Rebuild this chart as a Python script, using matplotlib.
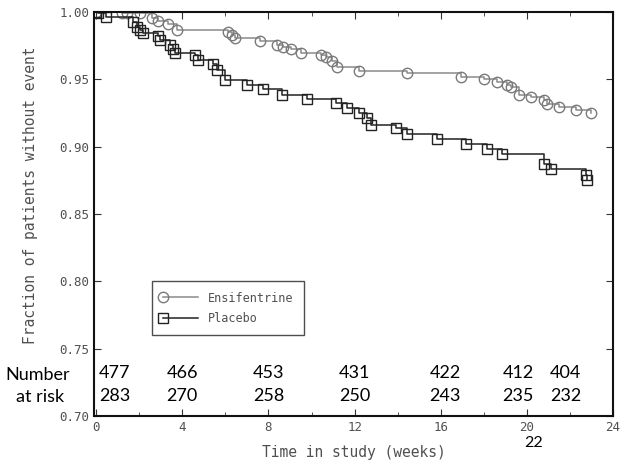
import matplotlib
matplotlib.use("Agg")
import matplotlib.pyplot as plt
from matplotlib.ticker import MultipleLocator
from matplotlib.legend_handler import HandlerLine2D

# ---- data ----
ens_t = [0.0, 1.2, 1.44, 2.04, 2.59, 2.87, 3.33, 3.75, 6.11, 6.30, 6.44, 7.59, 8.38, 8.66,
         9.07, 9.49, 10.46, 10.69, 10.97, 11.2, 12.2, 14.44, 16.94, 18.0, 18.6, 19.07,
         19.26, 19.63, 20.19, 20.79, 20.93, 21.48, 22.3, 23.0]
ens_s = [1.0, 0.9995, 0.999, 0.999, 0.9955, 0.993, 0.991, 0.987, 0.985, 0.983, 0.981, 0.9785,
         0.9755, 0.974, 0.9725, 0.9696, 0.968, 0.9666, 0.9636, 0.959, 0.956, 0.955, 0.952,
         0.950, 0.948, 0.946, 0.944, 0.938, 0.937, 0.935, 0.932, 0.9295, 0.927, 0.925]

pla_t = [0.0, 0.1, 0.45, 1.71, 1.9, 2.04, 2.18, 2.87, 2.96, 3.43, 3.56, 3.66, 4.58, 4.72,
         5.42, 5.6, 5.97, 6.99, 7.73, 8.61, 9.81, 11.16, 11.67, 12.2, 12.6, 12.78, 13.94,
         14.44, 15.83, 17.18, 18.15, 18.84, 20.79, 21.11, 22.73, 22.78]
pla_s = [1.0, 0.999, 0.996, 0.9926, 0.989, 0.9866, 0.9844, 0.982, 0.979, 0.9755, 0.9725,
         0.9696, 0.968, 0.9644, 0.9614, 0.957, 0.9495, 0.946, 0.943, 0.938, 0.9355, 0.9325,
         0.929, 0.925, 0.921, 0.916, 0.914, 0.9095, 0.906, 0.902, 0.898, 0.8946, 0.887,
         0.8835, 0.879, 0.8753]

risk_t = [0.85, 4.0, 8.0, 12.0, 16.2, 19.6, 21.8]
risk_ens = [477, 466, 453, 431, 422, 412, 404]
risk_pla = [283, 270, 258, 250, 243, 235, 232]

xticks = [0, 4, 8, 12, 16, 20, 24]
yticks = [0.70, 0.75, 0.80, 0.85, 0.90, 0.95, 1.00]

W, H = 620, 469
fig = plt.figure(figsize=(W / 100, H / 100), dpi=100)
ax = fig.add_axes([94 / W, 1 - 416 / H, (613 - 94) / W, (416 - 12) / H])

gray = "#505050"
mono = "DejaVu Sans Mono"
ax.plot(ens_t, ens_s, drawstyle="steps-post", color="#8a8a8a", lw=1.1,
        marker="o", markersize=7.5, markerfacecolor="none", markeredgecolor="#7a7a7a",
        markeredgewidth=1.0, label="Ensifentrine")
ax.plot(pla_t, pla_s, drawstyle="steps-post", color="#222222", lw=1.1,
        marker="s", markersize=6.5, markerfacecolor="none", markeredgecolor="#222222",
        markeredgewidth=1.0, label="Placebo")

ax.set_xlim(-0.1, 24)
ax.set_ylim(0.70, 1.00)
ax.set_xticks(xticks)
ax.set_yticks(yticks)
ax.set_yticklabels([f"{v:.2f}" for v in yticks])
ax.xaxis.set_minor_locator(MultipleLocator(2))
ax.tick_params(which="both", direction="in", top=True, right=True, colors="#333333",
               labelcolor=gray, labelsize=9)
ax.tick_params(which="major", length=5)
ax.tick_params(which="minor", length=3)
for lab in ax.get_xticklabels() + ax.get_yticklabels():
    lab.set_family(mono)
for sp in ax.spines.values():
    sp.set_linewidth(1.5)
    sp.set_color("#111111")

ax.set_xlabel("Time in study (weeks)", fontsize=10.5, color=gray, labelpad=8, family=mono)
ax.set_ylabel("Fraction of patients without event", fontsize=10.5, color=gray, family=mono)
ax.yaxis.set_label_coords((38 - 94) / 519, 1 - (195 - 12) / 404)


def _upd(h, o):
    h.update_from(o)
    h.set_markevery([0])


leg = ax.legend(loc="upper left",
                bbox_to_anchor=((152 - 94) / 519, 1 - (281 - 12) / 404),
                borderaxespad=0, frameon=True, fancybox=False,
                prop={"family": mono, "size": 8.5}, handlelength=3.0,
                borderpad=0.9, labelspacing=0.6, labelcolor=gray, edgecolor="#222222",
                handler_map={plt.Line2D: HandlerLine2D(update_func=_upd)})
leg.get_frame().set_linewidth(1.0)

rf = "Lato"
for t, a, b in zip(risk_t, risk_ens, risk_pla):
    ax.text(t, 0.7317, str(a), fontsize=13, family=rf, ha="center", va="center", color="black")
    ax.text(t, 0.7152, str(b), fontsize=13, family=rf, ha="center", va="center", color="black")
fig.text(38 / W, 1 - 375 / H, "Number", fontsize=13, family=rf, ha="center", va="center",
         color="black", bbox=dict(facecolor="white", edgecolor="none", pad=1))
fig.text(40 / W, 1 - 397 / H, "at risk", fontsize=13, family=rf, ha="center", va="center",
         color="black", bbox=dict(facecolor="white", edgecolor="none", pad=1))
fig.text(534 / W, 1 - 443 / H, "22", fontsize=11.5, family=rf, ha="center", va="center",
         color="black")

fig.savefig("out.png", dpi=100)
